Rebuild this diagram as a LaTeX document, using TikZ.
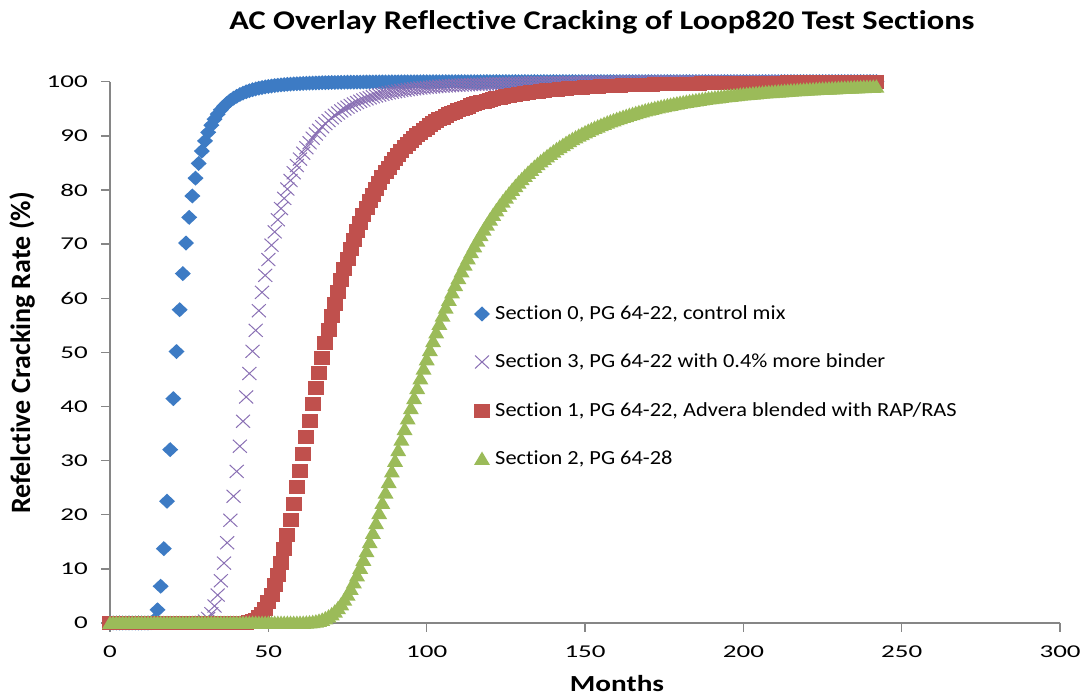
\documentclass[tikz,border=0pt]{standalone}
\usepackage{fontspec}
\setmainfont{Carlito}[Ligatures=CommonOff]
\usepackage{tikz}
\definecolor{secblue}{HTML}{3D7BC4}
\definecolor{secpurple}{HTML}{8A70B4}
\definecolor{secred}{HTML}{C0504D}
\definecolor{secgreen}{HTML}{9BBB59}
\definecolor{axisgray}{HTML}{868686}
\newcommand\mdia[1]{\fill[secblue] (#1) +(0,7.5) -- +(8,0) -- +(0,-7.5) -- +(-8,0) -- cycle;}
\newcommand\mcross[1]{\draw[secpurple,line width=1pt] (#1) +(-7,-6.5) -- +(7,6.5) +(-7,6.5) -- +(7,-6.5);}
\newcommand\msq[1]{\fill[secred] (#1) +(-8,-7) rectangle +(8,7);}
\newcommand\mtri[1]{\fill[secgreen] (#1) +(0,7.5) -- +(8,-6) -- +(-8,-6) -- cycle;}

\begin{document}
\begin{tikzpicture}[x=1pt,y=1pt,
  ticklab/.style={inner sep=0pt,xscale=1.5,font=\fontsize{18}{18}\selectfont},
  legtext/.style={inner sep=0pt,anchor=base west,xscale=1.12,font=\fontsize{20}{20}\selectfont}]
\useasboundingbox (0,0) rectangle (1084,696);
\node (title) at (602,666)[anchor=base][inner sep=0pt,xscale=1.2,font=\fontsize{27}{27}\selectfont\bfseries] {AC Overlay Reflective Cracking of Loop820 Test Sections};
\draw[axisgray,line width=1.4pt] (110,614) -- (110,73) -- (1060,73);
\foreach \t in {0,50,...,300}{
  \draw[axisgray,line width=1.4pt] ({110+3.167*\t},73) -- ({110+3.167*\t},64);
  \node[ticklab,anchor=base] (xt\t) at ({110+3.167*\t},38) {\t};
}
\foreach \v in {0,10,...,100}{
  \draw[axisgray,line width=1.4pt] (110,{73+5.413*\v}) -- (101,{73+5.413*\v});
  \node[ticklab,anchor=east] (yt\v) at (88,{73+5.413*\v}) {\v};
}
\node (xlabel) at (617,5)[anchor=base][inner sep=0pt,xscale=1.27,font=\fontsize{23}{23}\selectfont\bfseries] {Months};
\node (ylabel) at (22,343)[rotate=90][inner sep=0pt,font=\fontsize{28}{28}\selectfont\bfseries] {Refelctive Cracking Rate (\%)};
% data
\foreach \r/\b/\mk in {19.5/5.0/\mdia, 41.9/5.2/\mcross, 62.8/5.2/\msq, 93.5/4.9/\mtri}{
  \foreach \m in {0,...,242}{
    \pgfmathsetmacro\u{min(\b*ln(\r/max(\m,0.5)),3)}
    \pgfmathsetmacro\py{73+541.3*exp(-exp(\u))}
    \pgfmathsetmacro\px{110+3.167*\m}
    \mk{\px,\py}
  }
}
% legend
\node[legtext] (leg0) at (495,376) {Section 0, PG 64-22, control mix};
\mdia{482,382}
\node[legtext] (leg3) at (495,328) {Section 3, PG 64-22 with 0.4\% more binder};
\mcross{482,334}
\node[legtext] (leg1) at (495,279) {Section 1, PG 64-22, Advera blended with RAP/RAS};
\msq{482,285}
\node[legtext] (leg2) at (495,231) {Section 2, PG 64-28};
\mtri{482,237}
\end{tikzpicture}
\end{document}
